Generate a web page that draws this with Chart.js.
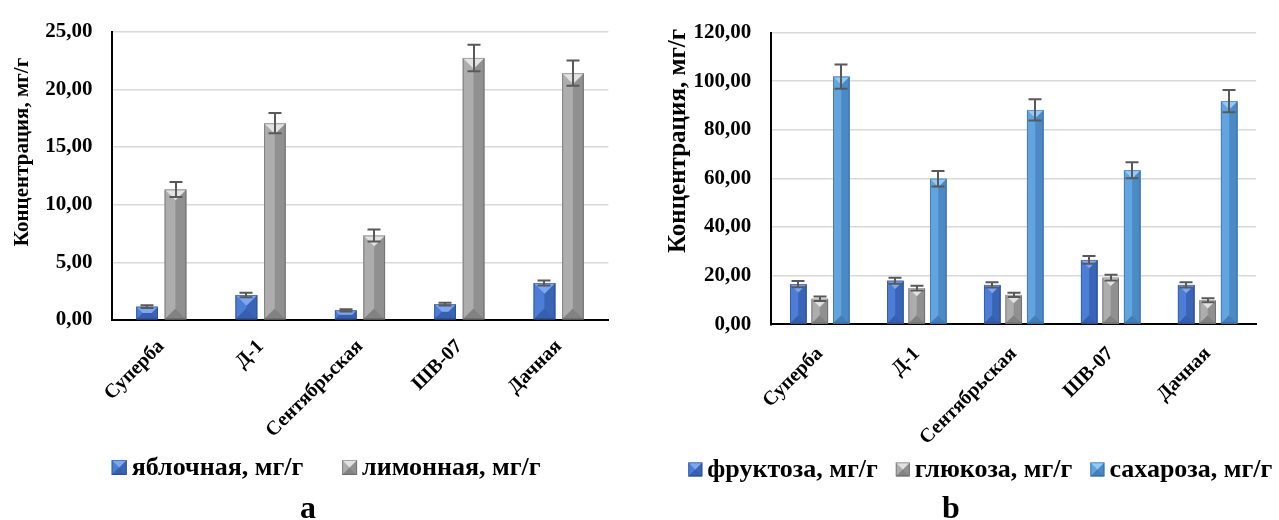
<!DOCTYPE html>
<html>
<head>
<meta charset="utf-8">
<script src="https://cdn.jsdelivr.net/npm/chart.js@4.4.1/dist/chart.umd.min.js"></script>
<style>
  html, body { margin: 0; padding: 0; background: #ffffff; }
  body { width: 1279px; height: 520px; position: relative; overflow: hidden; }
  canvas { position: absolute; top: 0; }
  #acids { left: 0; }
  #sugars { left: 640px; }
</style>
</head>
<body>
<canvas id="acids" width="640" height="520"></canvas>
<canvas id="sugars" width="639" height="520"></canvas>
<script>
// Varieties (x-axis categories)
const varieties = ['Суперба', 'Д-1', 'Сентябрьская', 'ШВ-07', 'Дачная'];

// Organic acids, mg/g
const malicLabel = 'яблочная, мг/г';
const malic      = [1.15, 2.17, 0.84, 1.38, 3.21];
const malicErr   = [0.12, 0.20, 0.10, 0.12, 0.22];
const citricLabel = 'лимонная, мг/г';
const citric      = [11.32, 17.06, 7.32, 22.72, 21.40];
const citricErr   = [0.65, 0.88, 0.52, 1.15, 1.10];

// Sugars, mg/g
const fructoseLabel = 'фруктоза, мг/г';
const fructose      = [16.5, 17.9, 16.2, 26.5, 16.2];
const fructoseErr   = [1.3, 1.2, 1.1, 1.6, 1.1];
const glucoseLabel  = 'глюкоза, мг/г';
const glucose       = [10.5, 14.9, 12.1, 19.2, 9.9];
const glucoseErr    = [0.9, 1.0, 0.9, 1.2, 0.8];
const sucroseLabel  = 'сахароза, мг/г';
const sucrose       = [101.9, 59.9, 88.2, 63.4, 91.8];
const sucroseErr    = [5.0, 3.2, 4.4, 3.3, 4.6];

// Value-axis tick labels
const acidTicks  = [0, 5, 10, 15, 20, 25];
const sugarTicks = [0, 20, 40, 60, 80, 100, 120];

const yTitle = 'Концентрация, мг/г';
const captionA = 'a';
const captionB = 'b';

const FONT = '"Liberation Serif", "Times New Roman", serif';

// Bevelled bar shading (top facet, left, right, bottom, outline)
const SHADE_BLUE  = { base: '#4472C4', top: '#7DA7EE', left: '#4D7ED7', right: '#3A64B5', bottom: '#3660AE', edge: 'rgba(30,50,100,0.4)' };
const SHADE_GRAY  = { base: '#A5A5A5', top: '#E2E2E2', left: '#ADADAD', right: '#909090', bottom: '#828282', edge: 'rgba(70,70,70,0.4)' };
const SHADE_LIGHT = { base: '#5B9BD5', top: '#93CBF8', left: '#62A4E0', right: '#4C8AC5', bottom: '#447EB6', edge: 'rgba(30,70,120,0.4)' };

const fmt = v => v.toFixed(2).replace('.', ',');

function poly(ctx, pts, color) {
  ctx.beginPath();
  ctx.moveTo(pts[0][0], pts[0][1]);
  for (let i = 1; i < pts.length; i++) ctx.lineTo(pts[i][0], pts[i][1]);
  ctx.closePath();
  ctx.fillStyle = color;
  ctx.fill();
}

function drawBevel(ctx, L, R, T, B, s) {
  const w = R - L, h = B - T;
  if (w <= 0 || h <= 0) return;
  const b = Math.min(w / 2, h / 2);
  ctx.save();
  poly(ctx, [[L, T], [R, T], [R, B], [L, B]], s.base);
  poly(ctx, [[L, T], [L + b, T + b], [L + b, B - b], [L, B]], s.left);
  poly(ctx, [[R, T], [R - b, T + b], [R - b, B - b], [R, B]], s.right);
  poly(ctx, [[L, B], [R, B], [R - b, B - b], [L + b, B - b]], s.bottom);
  poly(ctx, [[L, T], [R, T], [R - b, T + b], [L + b, T + b]], s.top);
  ctx.strokeStyle = s.edge;
  ctx.lineWidth = 1;
  ctx.strokeRect(L + 0.5, T + 0.5, w - 1, h - 1);
  ctx.restore();
}

// Bars get a bevel overlay, then error whiskers from the value scale
function barDecor(shades, errors) {
  return {
    id: 'barDecor',
    afterDatasetsDraw(chart) {
      const ctx = chart.ctx;
      const yScale = chart.scales.y;
      chart.data.datasets.forEach((ds, i) => {
        const meta = chart.getDatasetMeta(i);
        meta.data.forEach((el) => {
          const p = el.getProps(['x', 'y', 'base', 'width'], true);
          drawBevel(ctx, p.x - p.width / 2, p.x + p.width / 2, p.y, p.base, shades[i]);
        });
      });
      ctx.save();
      ctx.strokeStyle = '#595959';
      ctx.lineWidth = 2;
      chart.data.datasets.forEach((ds, i) => {
        const meta = chart.getDatasetMeta(i);
        meta.data.forEach((el, j) => {
          const v = ds.data[j], e = errors[i][j];
          const x = Math.round(el.x);
          const yt = yScale.getPixelForValue(v + e);
          const yb = yScale.getPixelForValue(v - e);
          ctx.beginPath();
          ctx.moveTo(x, yt); ctx.lineTo(x, yb);
          ctx.moveTo(x - 6.5, yt); ctx.lineTo(x + 6.5, yt);
          ctx.moveTo(x - 6.5, yb); ctx.lineTo(x + 6.5, yb);
          ctx.stroke();
        });
      });
      ctx.restore();
    }
  };
}

// Axis title, legend row and panel caption
function annotations(cfg, shades) {
  return {
    id: 'annotations',
    afterDraw(chart) {
      const ctx = chart.ctx;
      ctx.save();
      ctx.fillStyle = '#000';
      // y-axis title
      ctx.save();
      ctx.translate(cfg.titleX, cfg.titleY);
      ctx.rotate(-Math.PI / 2);
      ctx.font = `bold ${cfg.titleSize}px ${FONT}`;
      ctx.textAlign = 'center';
      ctx.textBaseline = 'middle';
      ctx.fillText(yTitle, 0, 0);
      ctx.restore();
      // legend
      ctx.font = `bold ${cfg.legendSize}px ${FONT}`;
      ctx.textAlign = 'left';
      ctx.textBaseline = 'middle';
      let x = cfg.legendX;
      const bs = cfg.box;
      chart.data.datasets.forEach((ds, i) => {
        drawBevel(ctx, x, x + bs, cfg.legendY - bs / 2, cfg.legendY + bs / 2, shades[i]);
        x += bs + cfg.textGap;
        ctx.fillStyle = '#000';
        ctx.fillText(ds.label, x, cfg.legendY + 1);
        x += ctx.measureText(ds.label).width + cfg.itemGap;
      });
      // caption
      ctx.font = `bold ${cfg.captionSize}px ${FONT}`;
      ctx.textAlign = 'center';
      ctx.textBaseline = 'alphabetic';
      ctx.fillText(cfg.caption, cfg.captionX, cfg.captionY);
      ctx.restore();
    }
  };
}

function buildChart(canvas, datasets, errors, shades, ticks, geo) {
  return new Chart(canvas, {
    type: 'bar',
    data: {
      labels: varieties,
      datasets: datasets.map((d, i) => ({
        label: d.label,
        data: d.data,
        backgroundColor: shades[i].base,
        borderWidth: 0,
        categoryPercentage: geo.cp,
        barPercentage: geo.bp
      }))
    },
    options: {
      responsive: false,
      animation: false,
      devicePixelRatio: 1,
      layout: { padding: { top: geo.padTop, right: geo.padRight, bottom: 0, left: 0 } },
      plugins: { legend: { display: false }, tooltip: { enabled: false }, title: { display: false } },
      scales: {
        x: {
          grid: { display: false, drawTicks: false },
          border: { display: true, color: '#000', width: 2 },
          ticks: {
            autoSkip: false, maxRotation: 45, minRotation: 45, padding: geo.xPad,
            color: '#000', font: { family: FONT, size: geo.xSize, weight: 'bold' }
          },
          afterFit: s => { s.height = geo.xHeight; }
        },
        y: {
          min: ticks[0], max: ticks[ticks.length - 1],
          afterBuildTicks: s => { s.ticks = ticks.map(v => ({ value: v })); },
          grid: {
            drawTicks: false, lineWidth: 1.5,
            color: c => (c.tick && c.tick.value === 0 ? 'rgba(0,0,0,0)' : '#D9D9D9')
          },
          border: { display: true, color: '#000', width: 2 },
          ticks: {
            padding: geo.yPad, color: '#000',
            font: { family: FONT, size: geo.ySize, weight: 'bold' },
            callback: v => fmt(v)
          },
          afterFit: s => { s.width = geo.yWidth; }
        }
      }
    },
    plugins: [barDecor(shades, errors), annotations(geo.ann, shades)]
  });
}

// Panel a: organic acids
buildChart(
  document.getElementById('acids'),
  [{ label: malicLabel, data: malic }, { label: citricLabel, data: citric }],
  [malicErr, citricErr],
  [SHADE_BLUE, SHADE_GRAY],
  acidTicks,
  {
    cp: 0.573, bp: 0.76, padTop: 24, padRight: 31.6, yWidth: 111.6, xHeight: 200,
    xPad: 15, xSize: 20, yPad: 19, ySize: 21,
    ann: {
      titleX: 22.6, titleY: 152, titleSize: 21,
      legendX: 111.7, legendY: 467.5, box: 15, textGap: 5, itemGap: 38.8, legendSize: 26,
      caption: captionA, captionX: 308, captionY: 518, captionSize: 32
    }
  }
);

// Panel b: sugars
buildChart(
  document.getElementById('sugars'),
  [{ label: fructoseLabel, data: fructose }, { label: glucoseLabel, data: glucose }, { label: sucroseLabel, data: sucrose }],
  [fructoseErr, glucoseErr, sucroseErr],
  [SHADE_BLUE, SHADE_GRAY, SHADE_LIGHT],
  sugarTicks,
  {
    cp: 0.665, bp: 0.77, padTop: 21, padRight: 22.8, yWidth: 131.3, xHeight: 195.7,
    xPad: 18, xSize: 20, yPad: 20, ySize: 21,
    ann: {
      titleX: 38.5, titleY: 141, titleSize: 25,
      legendX: 48.3, legendY: 469.4, box: 14, textGap: 5, itemGap: 18, legendSize: 26,
      caption: captionB, captionX: 311, captionY: 518, captionSize: 32
    }
  }
);
</script>
</body>
</html>
